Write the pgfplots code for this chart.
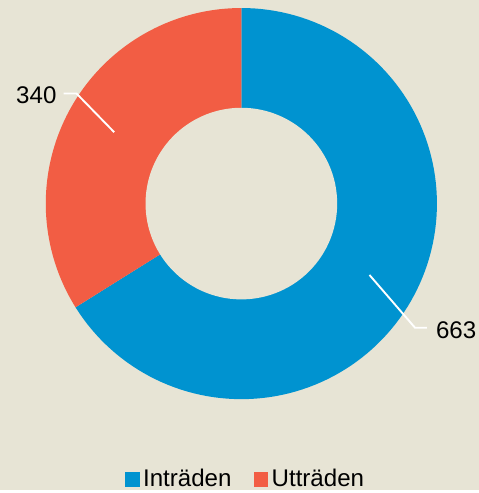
\documentclass[border=0pt]{standalone}
\usepackage{pgfplots}
\pgfplotsset{compat=1.18}
\usepackage{fontspec}
\setmainfont{Liberation Sans}
\definecolor{bgc}{RGB}{231,228,213}
\definecolor{cblue}{RGB}{0,147,208}
\definecolor{corange}{RGB}{242,93,68}
% data
\def\vIn{663}
\def\vUt{340}
\pgfmathsetmacro{\tot}{\vIn+\vUt}
\pgfmathsetmacro{\aA}{90}
\pgfmathsetmacro{\aB}{90-360*(\vIn/\tot)}
\pgfmathsetmacro{\aC}{\aB-360*(\vUt/\tot)}
\begin{document}
\begin{tikzpicture}
\fill[bgc] (0,0) rectangle (9.777cm,10cm);
\begin{axis}[
  at={(0,0)}, anchor=south west,
  width=9.777cm, height=10cm, scale only axis,
  xmin=-1.234, xmax=1.213, ymin=-1.462, ymax=1.041,
  hide axis, clip=false,
  legend columns=2,
  legend style={draw=none, fill=none, at={(axis cs:0.025,-1.411)}, anchor=center,
    font=\fontsize{14}{16}\selectfont,
    /tikz/every even column/.append style={column sep=0.38cm},
    inner sep=0pt},
  legend image code/.code={\fill[#1] (0cm,-0.15cm) rectangle (0.3cm,0.15cm);},
]
\addplot[fill=cblue, draw=none, domain=\aB:\aA, samples=120, variable=\t]
  ({cos(\t)},{sin(\t)}) -- (axis cs:0,0) -- cycle;
\addlegendentry{Inträden}
\addplot[fill=corange, draw=none, domain=\aC:\aB, samples=80, variable=\t]
  ({cos(\t)},{sin(\t)}) -- (axis cs:0,0) -- cycle;
\addlegendentry{Utträden}
\addplot[fill=bgc, draw=none, domain=0:360, samples=120, variable=\t, forget plot]
  ({0.49*cos(\t)},{0.49*sin(\t)}) -- cycle;
% leader lines
\addplot[white, line width=1.1pt, forget plot] coordinates {(-0.650,0.365) (-0.843,0.563) (-0.909,0.563)};
\addplot[white, line width=1.1pt, forget plot] coordinates {(0.655,-0.365) (0.888,-0.635) (0.949,-0.635)};
\node[anchor=east, font=\fontsize{14}{16}\selectfont, inner sep=1pt] at (axis cs:-0.935,0.553) {\vUt};
\node[anchor=west, font=\fontsize{14}{16}\selectfont, inner sep=1pt] at (axis cs:0.985,-0.645) {\vIn};
\end{axis}
\end{tikzpicture}
\end{document}
